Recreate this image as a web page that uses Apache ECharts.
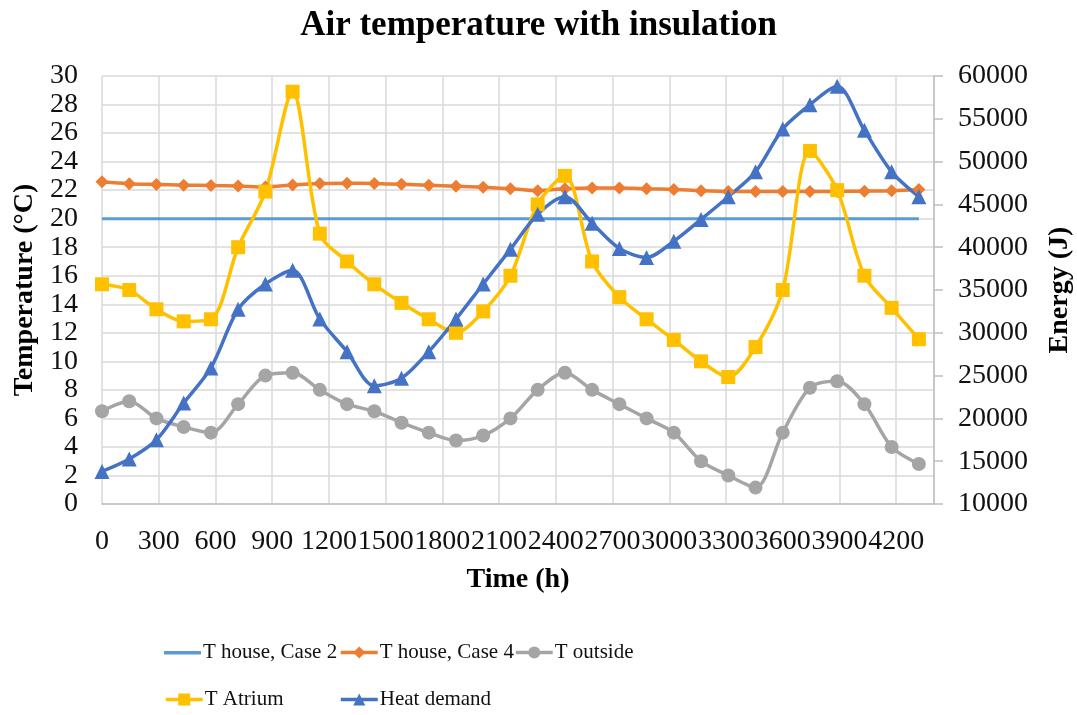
<!DOCTYPE html>
<html>
<head>
<meta charset="utf-8">
<script src="https://cdn.jsdelivr.net/npm/echarts@6/dist/echarts.min.js"></script>
<style>
  html, body { margin: 0; padding: 0; background: #fff; }
  #chart { width: 1077px; height: 715px; }
</style>
</head>
<body>
<div id="chart"></div>
<script>
// time (h), one reading every 144 h
const times = [0, 144, 288, 432, 576, 720, 864, 1008, 1152, 1296, 1440, 1584, 1728, 1872, 2016, 2160,
  2304, 2448, 2592, 2736, 2880, 3024, 3168, 3312, 3456, 3600, 3744, 3888, 4032, 4176, 4320];

const houseCase2 = [20, 20, 20, 20, 20, 20, 20, 20, 20, 20, 20, 20, 20, 20, 20, 20,
  20, 20, 20, 20, 20, 20, 20, 20, 20, 20, 20, 20, 20, 20, 20];

const houseCase4 = [22.58, 22.45, 22.4, 22.35, 22.32, 22.29, 22.22, 22.36, 22.46, 22.48, 22.46, 22.41, 22.34, 22.27, 22.2, 22.1,
  21.96, 22.1, 22.15, 22.15, 22.1, 22.05, 21.96, 21.91, 21.91, 21.91, 21.91, 21.91, 21.93, 21.96, 22.05];

const tOutside = [6.5, 7.2, 6.0, 5.4, 5.0, 7.0, 9.0, 9.2, 8.0, 7.0, 6.5, 5.7, 5.0, 4.45, 4.8, 6.0,
  8.0, 9.2, 8.0, 7.0, 6.0, 5.0, 3.0, 2.0, 1.15, 5.0, 8.15, 8.6, 7.0, 4.0, 2.8];

const tAtrium = [15.4, 15.0, 13.65, 12.8, 12.95, 18.0, 21.9, 28.9, 18.95, 17.0, 15.4, 14.1, 12.95, 12.0, 13.5, 16.0,
  21.0, 23.0, 17.0, 14.5, 12.95, 11.5, 10.0, 8.9, 11.0, 15.0, 24.75, 22.0, 16.0, 13.75, 11.55];

const heatDemand = [13800, 15250, 17500, 21800, 25900, 32750, 35700, 37300, 31600, 27800, 23800, 24700, 27800, 31600, 35700, 39750,
  43850, 45900, 42800, 39850, 38800, 40700, 43250, 45900, 48800, 53800, 56650, 58800, 53650, 48800, 45900];

const serif = 'Liberation Serif';

function pairs(vals) {
  return times.map((t, i) => [t, vals[i]]);
}

const chart = echarts.init(document.getElementById('chart'));

// plain line icon for the series without markers (box kept 37x15 by the two empty moves)
const lineIcon = 'path://M0,0L0,0M0,6L37,6L37,9.5L0,9.5ZM37,15L37,15';

function legendItem(name, left, top, icon) {
  const item = icon ? { name: name, icon: icon } : name;
  return {
    data: [item],
    left: left,
    top: top,
    itemWidth: 37,
    itemHeight: 15,
    padding: 0,
    lineStyle: { width: 3.5 },
    textStyle: { fontFamily: serif, fontSize: 21, color: '#111', padding: [0, 0, 0, -3] },
    selectedMode: false
  };
}

chart.setOption({
  animation: false,
  title: {
    text: 'Air temperature with insulation',
    left: 'center',
    top: 3,
    textStyle: { fontFamily: serif, fontSize: 35, fontWeight: 'bold', color: '#000' }
  },
  legend: [
    legendItem('T house, Case 2', 164, 642, lineIcon),
    legendItem('T house, Case 4', 339, 642),
    legendItem('T outside', 514, 642),
    legendItem('T Atrium', 164, 689),
    legendItem('Heat demand', 339, 689)
  ],
  grid: { left: 102, right: 143, top: 76, bottom: 211, outerBoundsMode: 'none' },
  xAxis: {
    type: 'value',
    min: 0,
    max: 4400,
    interval: 300,
    name: 'Time (h)',
    nameLocation: 'middle',
    nameGap: 62,
    nameTextStyle: { fontFamily: serif, fontSize: 28, fontWeight: 'bold', color: '#000' },
    axisLine: { show: true, lineStyle: { color: '#BFBFBF', width: 1.5 } },
    axisTick: { show: false },
    axisLabel: { fontFamily: serif, fontSize: 28, color: '#111', margin: 24, showMaxLabel: false,
      formatter: v => String(v) },
    splitLine: { show: true, lineStyle: { color: '#D9D9D9', width: 1.5 } }
  },
  yAxis: [
    {
      type: 'value',
      min: 0,
      max: 30,
      interval: 2,
      name: 'Temperature (°C)',
      nameLocation: 'middle',
      nameGap: 62,
      nameTextStyle: { fontFamily: serif, fontSize: 28, fontWeight: 'bold', color: '#000' },
      axisLine: { show: false },
      axisTick: { show: false },
      axisLabel: { fontFamily: serif, fontSize: 28, color: '#111', margin: 24 },
      splitLine: { show: true, lineStyle: { color: '#D9D9D9', width: 1.5 } }
    },
    {
      type: 'value',
      min: 10000,
      max: 60000,
      interval: 5000,
      position: 'right',
      name: 'Energy (J)',
      nameLocation: 'middle',
      nameGap: 112,
      nameTextStyle: { fontFamily: serif, fontSize: 28, fontWeight: 'bold', color: '#000' },
      axisLine: { show: true, lineStyle: { color: '#BFBFBF', width: 1.5 } },
      axisTick: { show: true, length: 9, lineStyle: { color: '#BFBFBF', width: 1.5 } },
      axisLabel: { fontFamily: serif, fontSize: 28, color: '#111', margin: 24,
        formatter: v => String(v) },
      splitLine: { show: false }
    }
  ],
  series: [
    {
      name: 'T house, Case 2',
      type: 'line',
      data: pairs(houseCase2),
      symbol: 'none',
      lineStyle: { color: '#5B9BD5', width: 3 },
      itemStyle: { color: '#5B9BD5' }
    },
    {
      name: 'T house, Case 4',
      type: 'line',
      data: pairs(houseCase4),
      smooth: 0.3,
      symbol: 'diamond',
      symbolSize: 13,
      lineStyle: { color: '#ED7D31', width: 3.5 },
      itemStyle: { color: '#ED7D31' }
    },
    {
      name: 'T outside',
      type: 'line',
      data: pairs(tOutside),
      smooth: 0.3,
      symbol: 'circle',
      symbolSize: 14,
      lineStyle: { color: '#A5A5A5', width: 3.5 },
      itemStyle: { color: '#A5A5A5' }
    },
    {
      name: 'T Atrium',
      type: 'line',
      data: pairs(tAtrium),
      smooth: 0.3,
      symbol: 'rect',
      symbolSize: 14,
      lineStyle: { color: '#FFC000', width: 3.5 },
      itemStyle: { color: '#FFC000' }
    },
    {
      name: 'Heat demand',
      type: 'line',
      yAxisIndex: 1,
      data: pairs(heatDemand),
      smooth: 0.3,
      symbol: 'triangle',
      symbolSize: 15,
      lineStyle: { color: '#4472C4', width: 3.5 },
      itemStyle: { color: '#4472C4' }
    }
  ]
});
</script>
</body>
</html>
